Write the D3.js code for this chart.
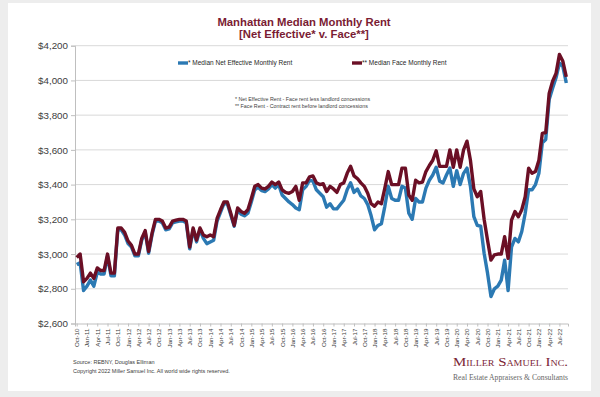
<!DOCTYPE html>
<html>
<head>
<meta charset="utf-8">
<script src="https://cdn.jsdelivr.net/npm/d3@7"></script>
<style>
  html, body { margin: 0; padding: 0; background: #ededed; }
  svg { display: block; font-family: "Liberation Sans", Arial, sans-serif; }
</style>
</head>
<body>
<div id="chart"></div>
<script>
// months Oct-10 .. Sep-22
const months = d3.timeMonth.range(new Date(2010, 9, 1), new Date(2022, 9, 1));
const monthLabels = months.map(d3.timeFormat('%b-%y'));

const yTicks = [2600, 2800, 3000, 3200, 3400, 3600, 3800, 4000, 4200];

const netEffective = [
  2940, 2950, 2790, 2815, 2850, 2815, 2895, 2885, 2885, 2990, 2875, 2875,
  3140, 3140, 3110, 3060, 3040, 2990, 2990, 3080, 3125, 3005, 3110, 3190,
  3190, 3180, 3140, 3145, 3180, 3185, 3190, 3190, 3180, 3030, 3140, 3070,
  3140, 3090, 3060, 3070, 3080, 3190, 3240, 3290, 3290, 3225, 3160, 3255,
  3230, 3220, 3235, 3300, 3370, 3385, 3365, 3360, 3375, 3400, 3380, 3400,
  3340, 3320, 3300, 3285, 3265, 3255, 3370, 3390, 3425, 3420, 3370, 3350,
  3330, 3270, 3290, 3260, 3260, 3285, 3310, 3370, 3410, 3355, 3375, 3335,
  3320, 3285, 3220, 3140, 3165, 3175, 3275, 3390, 3320, 3310, 3310, 3390,
  3380, 3235, 3200, 3320, 3300, 3300, 3380, 3425, 3455, 3500, 3420, 3410,
  3455, 3495, 3390, 3480, 3400, 3465, 3495, 3390, 3215, 3165, 3160, 3005,
  2890, 2755, 2800, 2815, 2850, 2965, 2790, 3040, 3090, 3070, 3130, 3235,
  3370, 3370, 3400, 3465, 3640, 3660, 3890, 3955, 4015, 4100, 4080, 3985
];

const faceRent = [
  2980, 3000, 2840, 2860, 2890, 2860, 2920, 2905, 2905, 3000, 2890, 2890,
  3150, 3150, 3125, 3075, 3050, 3000, 3000, 3090, 3135, 3015, 3120, 3200,
  3200, 3190, 3150, 3155, 3190, 3195, 3200, 3200, 3190, 3040, 3150, 3080,
  3150, 3110, 3100, 3110, 3100, 3205, 3255, 3300, 3300, 3235, 3165, 3265,
  3245, 3235, 3255, 3320, 3390, 3400, 3380, 3375, 3390, 3415, 3400, 3415,
  3370, 3355, 3350, 3360, 3390, 3310, 3410, 3410, 3445, 3450, 3410, 3400,
  3405, 3360, 3390, 3375, 3355, 3400, 3410, 3465, 3505, 3450, 3435, 3410,
  3390, 3350, 3290, 3275, 3300, 3290, 3380, 3475, 3400, 3400, 3400, 3495,
  3495, 3340, 3310, 3425, 3410, 3415, 3475, 3510, 3540, 3595, 3505, 3505,
  3505, 3600, 3500, 3600, 3500, 3600, 3650, 3540, 3375, 3330, 3360, 3200,
  3080, 2965, 2995, 3000, 3000, 3100, 2975, 3195, 3245, 3215, 3255, 3330,
  3495, 3465, 3475, 3540, 3695, 3700, 3925, 3995, 4040, 4150, 4110, 4020
];

const series = [
  {name: '* Median Net Effective Monthly Rent', values: netEffective, color: '#2b79b3'},
  {name: '** Median Face Monthly Rent', values: faceRent, color: '#6b0f25'}
];

const W = 600, H = 397;
const plot = {left: 75, right: 568, top: 45.7, bottom: 323.5};

const svg = d3.select('#chart').append('svg')
  .attr('width', W)
  .attr('height', H);

// card
svg.append('rect')
  .attr('x', 8).attr('y', 3)
  .attr('width', 583).attr('height', 388)
  .attr('fill', '#ffffff');

const x = d3.scalePoint()
  .domain(monthLabels)
  .range([plot.left, plot.right])
  .padding(0.5);

const y = d3.scaleLinear()
  .domain([2600, 4200])
  .range([plot.bottom, plot.top]);

// gridlines
svg.append('g')
  .selectAll('line')
  .data(yTicks.slice(1))
  .join('line')
    .attr('x1', plot.left).attr('x2', plot.right)
    .attr('y1', (d) => y(d)).attr('y2', (d) => y(d))
    .attr('stroke', '#d9d9d9')
    .attr('stroke-width', 1);

// y axis
const yAxis = svg.append('g')
  .attr('transform', `translate(${plot.left},0)`)
  .call(d3.axisLeft(y).tickValues(yTicks).tickSize(4).tickPadding(3)
    .tickFormat((d) => '$' + d3.format(',')(d)));
yAxis.select('.domain').attr('stroke', '#bfbfbf');
yAxis.selectAll('.tick line').attr('stroke', '#bfbfbf');
yAxis.selectAll('text')
  .attr('font-size', '9.8px')
  .attr('fill', '#404040')
  .attr('font-family', '"Liberation Sans", Arial, sans-serif');

// x axis
const xAxis = svg.append('g')
  .attr('transform', `translate(0,${plot.bottom})`)
  .call(d3.axisBottom(x).tickValues(monthLabels.filter((d, i) => i % 3 === 0)).tickSize(3));
xAxis.select('.domain').attr('stroke', '#bfbfbf');
xAxis.selectAll('.tick line').attr('stroke', '#bfbfbf');
xAxis.selectAll('text')
  .attr('font-size', '6.2px')
  .attr('fill', '#404040')
  .attr('font-family', '"Liberation Sans", Arial, sans-serif')
  .attr('text-anchor', 'end')
  .attr('dy', '0.32em')
  .attr('transform', 'translate(0,5) rotate(-90)')
  .attr('x', 0).attr('y', 0);

// lines
const line = d3.line()
  .x((d, i) => x(monthLabels[i]))
  .y((d) => y(d));

series.forEach((s) => {
  svg.append('path')
    .datum(s.values)
    .attr('fill', 'none')
    .attr('stroke', s.color)
    .attr('stroke-width', 3.4)
    .attr('stroke-linejoin', 'round')
    .attr('d', line);
});

// title
const title = svg.append('text')
  .attr('text-anchor', 'middle')
  .attr('font-weight', 'bold')
  .attr('font-size', '11.3px')
  .attr('fill', '#7a1c33');
title.append('tspan').attr('x', 304).attr('y', 25.5).text('Manhattan Median Monthly Rent');
title.append('tspan').attr('x', 304).attr('y', 37.5).text('[Net Effective* v. Face**]');

// legend
const legendPos = [178, 352];
series.forEach((s, i) => {
  const g = svg.append('g').attr('transform', `translate(${legendPos[i]},63)`);
  g.append('line')
    .attr('x1', 0).attr('x2', 10)
    .attr('stroke', s.color)
    .attr('stroke-width', 3.4);
  g.append('text')
    .attr('x', 10).attr('y', 2.3)
    .attr('font-size', '6.5px')
    .attr('fill', '#262626')
    .text(s.name);
});

// footnotes
const notes = [
  '* Net Effective Rent - Face rent less landlord concessions',
  '** Face Rent - Contract rent before landlord concessions'
];
svg.append('g')
  .selectAll('text')
  .data(notes)
  .join('text')
    .attr('x', 235)
    .attr('y', (d, i) => 100.5 + i * 7)
    .attr('font-size', '5.3px')
    .attr('fill', '#404040')
    .text((d) => d);

// source
svg.append('text')
  .attr('x', 73).attr('y', 364)
  .attr('font-size', '5.5px')
  .attr('fill', '#404040')
  .text('Source: REBNY, Douglas Elliman');
svg.append('text')
  .attr('x', 73).attr('y', 373)
  .attr('font-size', '5.5px')
  .attr('fill', '#404040')
  .text('Copyright 2022 Miller Samuel Inc.  All world wide rights reserved.');

// logo
svg.append('text')
  .attr('x', 453).attr('y', 366)
  .attr('font-family', '"Liberation Serif", "DejaVu Serif", serif')
  .attr('font-size', '13.5px')
  .attr('font-variant', 'small-caps')
  .attr('fill', '#7a2434')
  .attr('textLength', 115)
  .attr('lengthAdjust', 'spacingAndGlyphs')
  .text('Miller Samuel Inc.');
svg.append('text')
  .attr('x', 453).attr('y', 379.5)
  .attr('font-family', '"Liberation Serif", "DejaVu Serif", serif')
  .attr('font-size', '7.5px')
  .attr('fill', '#666666')
  .attr('textLength', 115)
  .attr('lengthAdjust', 'spacingAndGlyphs')
  .text('Real Estate Appraisers & Consultants');
</script>
</body>
</html>
